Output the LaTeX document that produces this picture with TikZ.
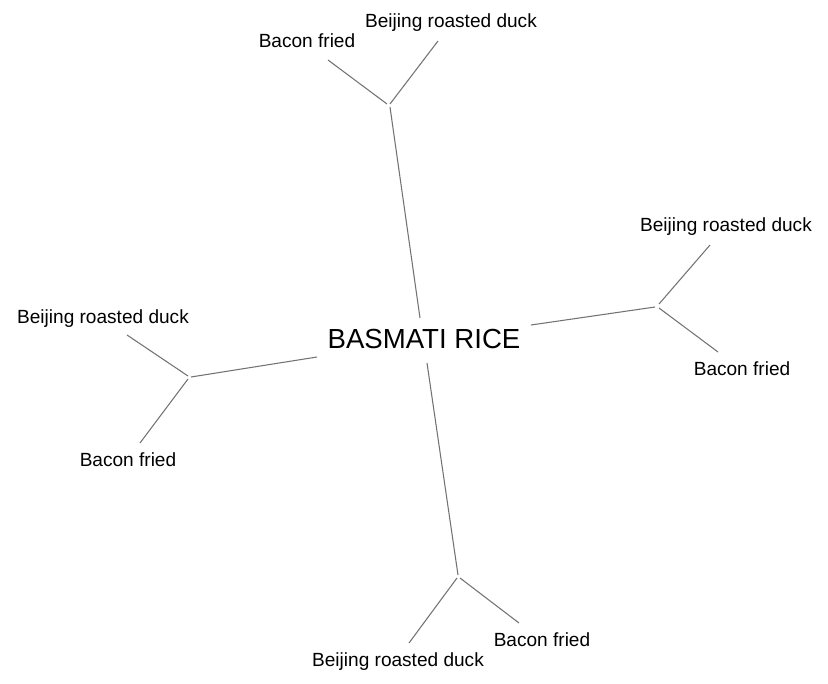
\documentclass[tikz,border=0pt]{standalone}
\usepackage{fontspec}
\setmainfont{Liberation Sans}
\begin{document}
\begin{tikzpicture}[x=0.75pt,y=-0.75pt,
  leaf/.style={inner sep=0pt,anchor=base,font=\fontsize{14.3}{17}\selectfont},
  hub/.style={inner sep=0pt,anchor=base,font=\fontsize{20.7}{25}\selectfont},
  edge/.style={draw=black!55,line width=0.8pt}]
\useasboundingbox (0,0) rectangle (828,684);
\node[hub] (c) at (424,348) {BASMATI RICE};
% top
\coordinate (ct) at (420,318); \coordinate (bt) at (390,107);
\coordinate (bt1) at (387,104); \coordinate (bt2) at (390,104);
\coordinate (lt1) at (328,60); \coordinate (lt2) at (438,41);
\node[leaf] (tB) at (451,28) {Beijing roasted duck};
\node[leaf] (tF) at (307,48) {Bacon fried};
\draw[edge] (ct) -- (bt);
\draw[edge] (bt1) -- (lt1);
\draw[edge] (bt2) -- (lt2);
% right
\coordinate (cr) at (531,325); \coordinate (br) at (655,307);
\coordinate (br1) at (659,304); \coordinate (br2) at (659,308);
\coordinate (lr1) at (710,245); \coordinate (lr2) at (718,352);
\node[leaf] (rB) at (726,232) {Beijing roasted duck};
\node[leaf] (rF) at (742,375) {Bacon fried};
\draw[edge] (cr) -- (br);
\draw[edge] (br1) -- (lr1);
\draw[edge] (br2) -- (lr2);
% left
\coordinate (cl) at (317,357); \coordinate (bl) at (191,377);
\coordinate (bl1) at (188,376); \coordinate (bl2) at (188,379);
\coordinate (ll1) at (127,335); \coordinate (ll2) at (140,443);
\node[leaf] (lB) at (103,323) {Beijing roasted duck};
\node[leaf] (lF) at (128,466) {Bacon fried};
\draw[edge] (cl) -- (bl);
\draw[edge] (bl1) -- (ll1);
\draw[edge] (bl2) -- (ll2);
% bottom
\coordinate (cb) at (427,363); \coordinate (bb) at (458,575);
\coordinate (bb1) at (457,578); \coordinate (bb2) at (460,578);
\coordinate (lb1) at (409,643); \coordinate (lb2) at (519,623);
\node[leaf] (bB) at (398,666) {Beijing roasted duck};
\node[leaf] (bF) at (542,646) {Bacon fried};
\draw[edge] (cb) -- (bb);
\draw[edge] (bb1) -- (lb1);
\draw[edge] (bb2) -- (lb2);
\end{tikzpicture}
\end{document}
